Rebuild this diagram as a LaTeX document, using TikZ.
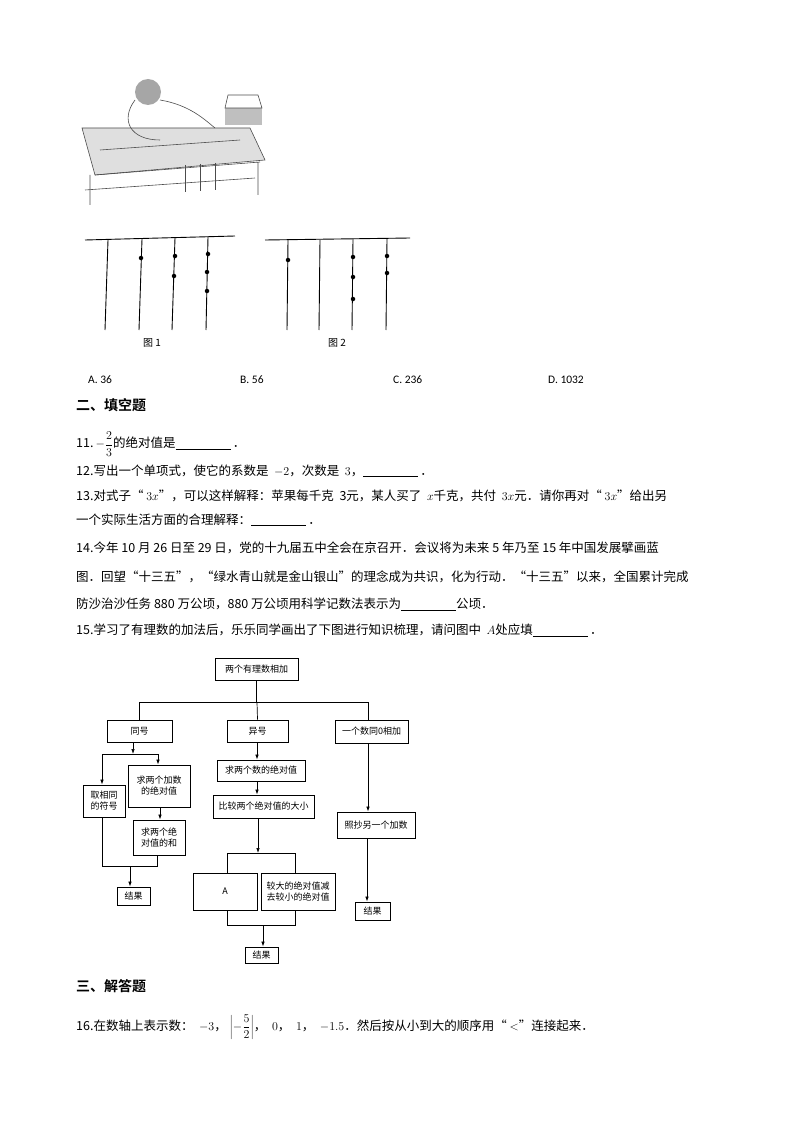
\documentclass[tikz,border=0pt]{standalone}
\usepackage{fontspec}
\setmainfont{Carlito}
\newfontfamily\cjk{Noto Sans CJK SC}
\newfontfamily\cjkb{Noto Sans CJK SC Bold}
\usetikzlibrary{arrows.meta}
\begin{document}
\begin{tikzpicture}[x=1pt,y=-1pt,
  txt/.style={anchor=west,inner sep=0pt,font=\cjk\fontsize{12.5}{14}\selectfont},
  ttl/.style={anchor=west,inner sep=0pt,font=\cjkb\fontsize{14}{15}\selectfont},
  fbox/.style={draw,line width=0.8pt,inner sep=1pt,align=center,font=\cjk\fontsize{9}{11}\selectfont},
  fl/.style={line width=0.7pt},
  fa/.style={line width=0.7pt,-{Latex[length=5pt,width=3.5pt]}},
  rod/.style={line width=0.9pt},
  bead/.style={circle,fill,inner sep=0pt,minimum size=4.5pt}]
\useasboundingbox (0,0) rectangle (794,1123);
% ---- picture sketch (person at table)
\begin{scope}[line width=0.6pt,gray!60!black]
\fill[gray!25] (82,128) -- (250,128) -- (265,160) -- (95,175) -- cycle;
\draw (82,128) -- (250,128) -- (265,160) -- (95,175) -- cycle;
\draw (90,175) -- (90,205) (95,175) -- (260,162) (258,162) -- (258,195);
\draw (85,190) -- (255,178) (100,150) -- (240,140);
\draw (185,165) -- (185,192) (200,164) -- (200,191) (215,163) -- (215,190);
\fill[gray!70] (148,92) circle (13);
\draw (135,100) .. controls (120,120) and (130,140) .. (160,140);
\draw (160,100) .. controls (190,105) and (205,120) .. (215,128);
\fill[gray!50] (225,108) rectangle (262,125);
\draw (228,95) -- (258,95) -- (262,108) -- (225,108) -- cycle;
\end{scope}
% ---- abacus figures
\draw[rod] (85,240) -- (235,236);
\draw[rod] (108,240) -- (105,330);
\draw[rod] (142,239) -- (139,330);
\draw[rod] (175,238) -- (172,330);
\draw[rod] (208,237) -- (206,330);
\node[bead] (b1) at (141,258) {};
\node[bead] (b2) at (175,256) {};
\node[bead] (b3) at (174,276) {};
\node[bead] (b4) at (208,254) {};
\node[bead] (b5) at (207,272) {};
\node[bead] (b6) at (207,291) {};
\node[font=\cjk\fontsize{10}{11}\selectfont] (f1) at (152,343) {图 1};
\draw[rod] (265,240) -- (410,238);
\draw[rod] (288,240) -- (287,330);
\draw[rod] (320,240) -- (319,330);
\draw[rod] (353,239) -- (352,330);
\draw[rod] (387,239) -- (386,330);
\node[bead] (c1) at (288,260) {};
\node[bead] (c2) at (353,257) {};
\node[bead] (c3) at (353,277) {};
\node[bead] (c4) at (353,299) {};
\node[bead] (c5) at (387,256) {};
\node[bead] (c6) at (387,273) {};
\node[font=\cjk\fontsize{10}{11}\selectfont] (f2) at (337,343) {图 2};
% ---- options
\node[txt,font=\fontsize{11.5}{13}\selectfont] (oa) at (88,380) {A. 36};
\node[txt,font=\fontsize{11.5}{13}\selectfont] (ob) at (240,380) {B. 56};
\node[txt,font=\fontsize{11.5}{13}\selectfont] (oc) at (393,380) {C. 236};
\node[txt,font=\fontsize{11.5}{13}\selectfont] (od) at (548,380) {D. 1032};
% ---- fill in
\node[ttl] (t2) at (76,405) {二、填空题};
\node[txt] (q11) at (76,444) {11.\,$\displaystyle-\frac{2}{3}$的绝对值是\underline{\hspace{55pt}}\,．};
\node[txt] (q12) at (76,471) {12.写出一个单项式，使它的系数是\ \ $-2$，次数是\ \ $3$，\underline{\hspace{55pt}}\,．};
\node[txt] (q13) at (76,496) {13.对式子“\ $3x$”，可以这样解释：苹果每千克\ \ 3元，某人买了\ \ $x$千克，共付\ \ $3x$元．请你再对“\ $3x$”给出另};
\node[txt] (q13b) at (76,520) {一个实际生活方面的合理解释：\underline{\hspace{55pt}}\,．};
\node[txt] (q14) at (76,548) {14.今年 10 月 26 日至 29 日，党的十九届五中全会在京召开．会议将为未来 5 年乃至 15 年中国发展擘画蓝};
\node[txt] (q14b) at (76,577) {图．回望“十三五”，“绿水青山就是金山银山”的理念成为共识，化为行动．“十三五”以来，全国累计完成};
\node[txt] (q14c) at (76,604) {防沙治沙任务 880 万公顷，880 万公顷用科学记数法表示为\underline{\hspace{55pt}}公顷．};
\node[txt] (q15) at (76,630) {15.学习了有理数的加法后，乐乐同学画出了下图进行知识梳理，请问图中\ \ $A$处应填\underline{\hspace{55pt}}\,．};
% ---- flowchart
\node[fbox,minimum width=83pt,minimum height=22pt] (top) at (256.5,669) {两个有理数相加};
\node[fbox,minimum width=65pt,minimum height=22pt] (tong) at (139.5,731) {同号};
\node[fbox,minimum width=61pt,minimum height=22pt] (yi) at (257.5,731) {异号};
\node[fbox,minimum width=73pt,minimum height=23pt] (zero) at (371.5,731.5) {一个数同0相加};
\node[fbox,minimum width=42pt,minimum height=32pt] (sign) at (104,801) {取相同\\的符号};
\node[fbox,minimum width=62pt,minimum height=42pt] (absa) at (159,786) {求两个加数\\的绝对值};
\node[fbox,minimum width=52pt,minimum height=35pt] (sum) at (159,837.5) {求两个绝\\对值的和};
\node[fbox,minimum width=33pt,minimum height=18pt] (res1) at (133.5,896) {结果};
\node[fbox,minimum width=88pt,minimum height=21pt] (absb) at (261,770.5) {求两个数的绝对值};
\node[fbox,minimum width=101pt,minimum height=23pt] (cmp) at (263.5,806.5) {比较两个绝对值的大小};
\node[fbox,minimum width=64pt,minimum height=37pt] (A) at (225,891.5) {A};
\node[fbox,minimum width=74pt,minimum height=37pt,inner sep=0.5pt] (sub) at (298,891.5) {较大的绝对值减\\去较小的绝对值};
\node[fbox,minimum width=33pt,minimum height=16pt] (res2) at (261.5,955) {结果};
\node[fbox,minimum width=78pt,minimum height=26pt] (copy) at (376,825) {照抄另一个加数};
\node[fbox,minimum width=35pt,minimum height=18pt] (res3) at (372.5,911) {结果};
\coordinate (hl) at (139,702);
\coordinate (hr) at (368,702);
\draw[fl] (top.south) -- (top.south |- hl);
\draw[fl] (hl) -- (hr);
\draw[fl] (hl) -- (tong.north -| hl);
\draw[fl] (257,702) -- (yi.north);
\draw[fl] (hr) -- (zero.north -| hr);
\coordinate (s1) at (133,754);
\draw[fa] (tong.south -| s1) -- (s1);
\draw[fl] (102,754) -- (158,754);
\draw[fa] (102,754) -- (sign.north -| 102,0);
\draw[fa] (158,754) -- (absa.north -| 158,0);
\draw[fa] (absa.south -| 160,0) -- (sum.north -| 160,0);
\draw[fl] (sign.south -| 102,0) -- (102,866) -- (157,866) -- (sum.south -| 157,0);
\draw[fa] (130,866) -- (res1.north -| 130,0);
\draw[fa] (yi.south -| 257,0) -- (absb.north -| 257,0);
\draw[fa] (absb.south -| 257,0) -- (cmp.north -| 257,0);
\draw[fa] (cmp.south -| 258,0) -- (258,853);
\draw[fl] (227,853) -- (295,853);
\draw[fl] (227,853) -- (A.north -| 227,0);
\draw[fl] (295,853) -- (sub.north -| 295,0);
\draw[fl] (A.south -| 227,0) -- (227,925) -- (295,925) -- (sub.south -| 295,0);
\draw[fa] (263,925) -- (res2.north -| 263,0);
\draw[fa] (zero.south -| 368,0) -- (copy.north -| 368,0);
\draw[fa] (copy.south -| 367,0) -- (res3.north -| 367,0);
% ---- part 3
\node[ttl] (t3) at (76,986) {三、解答题};
\node[txt] (q16) at (76,1027) {16.在数轴上表示数：\ \ $-3$，\ $\displaystyle\left|-\frac{5}{2}\right|$，\ \ $0$，\ \ $1$，\ \ $-1.5$．然后按从小到大的顺序用“\ $<$”连接起来．};
\end{tikzpicture}
\end{document}
